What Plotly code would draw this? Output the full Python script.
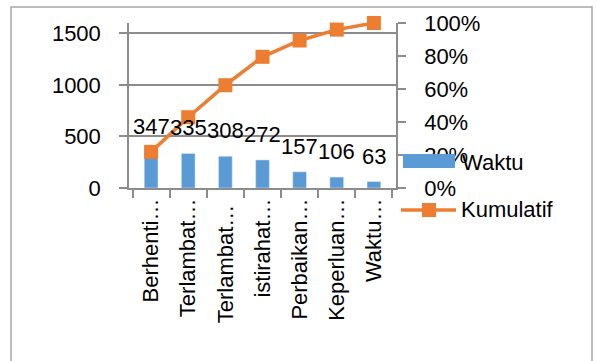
import plotly.graph_objects as go

# Pareto data: lost time per cause
categories = ["Berhenti…", "Terlambat…", "Terlambat… ", "istirahat…",
              "Perbaikan…", "Keperluan…", "Waktu…"]
waktu = [347, 335, 308, 272, 157, 106, 63]
kumulatif = [0.219, 0.429, 0.623, 0.795, 0.894, 0.960, 1.000]

left_ticks = [0, 500, 1000, 1500]
right_ticks = [0, 0.2, 0.4, 0.6, 0.8, 1.0]

BLUE = "#5B9BD5"
ORANGE = "#ED7D31"
GRID = "#8C8C8C"
FONT = "Liberation Sans"
FS = 22

W, H = 598, 361
L, R, T, B = 129, 202, 23, 173
PW, PH = W - L - R, H - T - B


def px(x):
    return (x - L) / PW


def py(y):
    return (H - B - y) / PH


fig = go.Figure()
fig.add_trace(go.Bar(x=categories, y=waktu, name="Waktu", marker_color=BLUE,
                     width=0.37, yaxis="y"))
fig.add_trace(go.Scatter(x=categories, y=kumulatif, name="Kumulatif",
                         mode="lines+markers", yaxis="y2", cliponaxis=False,
                         line=dict(color=ORANGE, width=3.5),
                         marker=dict(symbol="square", size=14, color=ORANGE)))

# value labels above the bars
for c, v in zip(categories, waktu):
    fig.add_annotation(x=c, y=v, yref="y", text=str(v), showarrow=False,
                       yanchor="bottom", yshift=11,
                       font=dict(family=FONT, size=FS, color="black"))

# legend drawn at the right of the plot
fig.add_shape(type="rect", xref="paper", yref="paper", layer="above",
              x0=px(403), x1=px(455), y0=py(168), y1=py(154),
              fillcolor=BLUE, line=dict(width=0))
fig.add_annotation(xref="paper", yref="paper", x=px(460), y=py(162),
                   xanchor="left", yanchor="middle", text="Waktu",
                   showarrow=False, font=dict(family=FONT, size=FS, color="black"))
fig.add_shape(type="line", xref="paper", yref="paper", layer="above",
              x0=px(401), x1=px(456), y0=py(210), y1=py(210),
              line=dict(color=ORANGE, width=3.5))
fig.add_shape(type="rect", xref="paper", yref="paper", layer="above",
              x0=px(422), x1=px(436), y0=py(217), y1=py(203),
              fillcolor=ORANGE, line=dict(width=0))
fig.add_annotation(xref="paper", yref="paper", x=px(459), y=py(209),
                   xanchor="left", yanchor="middle", text="Kumulatif",
                   showarrow=False, font=dict(family=FONT, size=FS, color="black"))

# chart border
fig.add_shape(type="rect", xref="paper", yref="paper", layer="below",
              x0=px(11), x1=px(592), y0=py(370), y1=py(7),
              line=dict(color="#A6A6A6", width=1.5), fillcolor="rgba(0,0,0,0)")

fig.update_layout(
    width=W, height=H,
    margin=dict(l=L, r=R, t=T, b=B, autoexpand=False),
    paper_bgcolor="white", plot_bgcolor="white",
    showlegend=False, bargap=0.6,
    font=dict(family=FONT, size=FS, color="black"),
    xaxis=dict(type="category", showline=True, linecolor=GRID, linewidth=1.5,
               ticks="outside", tickson="boundaries", ticklen=8, tickcolor=GRID,
               tickwidth=1.5, tickangle=-90, showgrid=False,
               tickfont=dict(family=FONT, size=FS)),
    yaxis=dict(range=[0, 1600], tickvals=left_ticks, showline=True,
               linecolor=GRID, linewidth=1.5, ticks="outside", ticklen=8,
               tickcolor=GRID, tickwidth=1.5, showgrid=True, gridcolor=GRID,
               gridwidth=1.5, zeroline=False, ticklabelstandoff=14,
               tickfont=dict(family=FONT, size=FS)),
    yaxis2=dict(range=[0, 1], tickvals=right_ticks, tickformat=".0%",
                overlaying="y", side="right", showline=True, linecolor=GRID,
                linewidth=1.5, ticks="outside", ticklen=8, tickcolor=GRID,
                tickwidth=1.5, showgrid=False, zeroline=False,
                ticklabelstandoff=14, tickfont=dict(family=FONT, size=FS)),
)

fig.write_html("out.html")
